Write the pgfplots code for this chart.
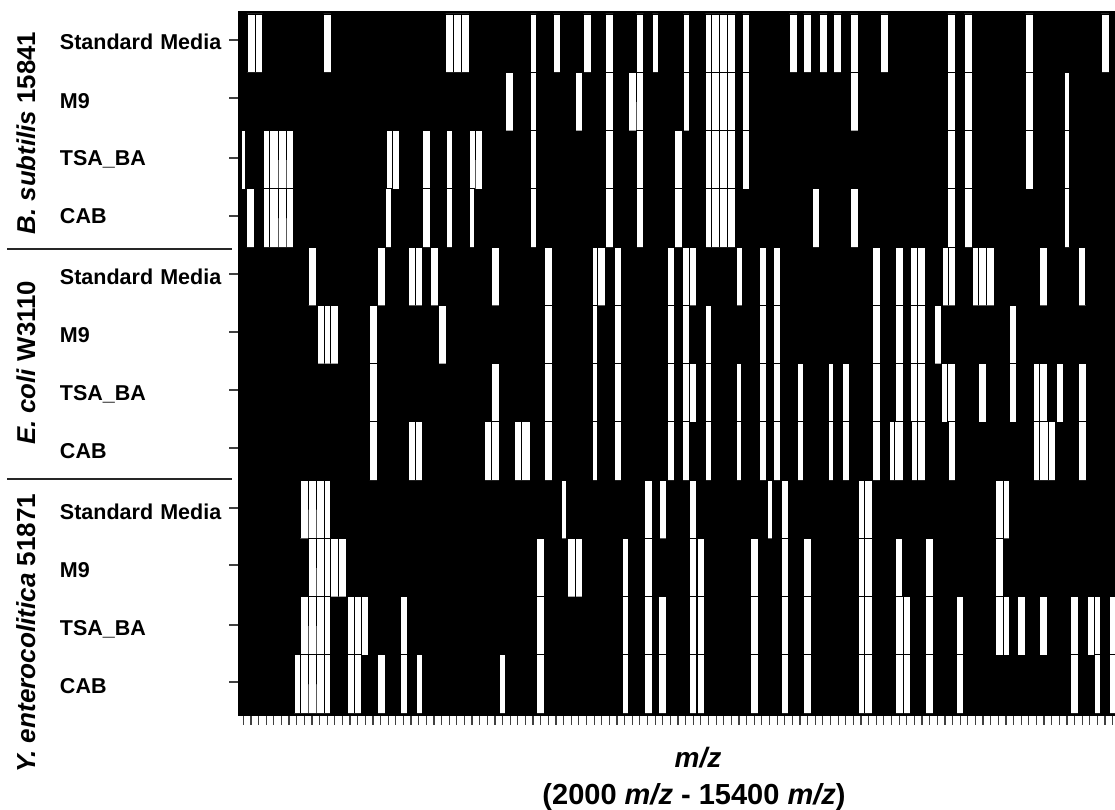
\documentclass[border=0pt]{standalone}
\usepackage{pgfplots}
\pgfplotsset{compat=1.18}
\usepackage{fontspec}
\setmainfont{Liberation Sans}
\newcommand{\fs}[1]{\fontsize{#1}{#1}\selectfont}
\pgfplotsset{barrow/.style={const plot, fill=white, draw=black, line width=0.75pt, mark=none}}
\begin{document}
\begin{tikzpicture}[x=1pt,y=1pt]
\path[use as bounding box] (0,0) rectangle (1115,810);
\begin{axis}[
  at={(238.7pt,95pt)}, anchor=south west,
  scale only axis, width=876.3pt, height=704pt,
  xmin=238.7, xmax=1115, ymin=-0.0515, ymax=12.034, y dir=reverse,
  axis background/.style={fill=black},
  axis line style={draw=black, line width=0.6pt},
  tick align=outside, major tick length=9.5pt,
  xtick pos=lower, ytick pos=lower,
  tick style={draw=black!75, line width=1.2pt},
  xtick={243.3,250.926,...,1113.5}, xticklabels={},
  ytick={0.446,1.442,2.472,3.468,4.464,5.459,6.455,7.451,8.481,9.459,10.489,11.468},
  yticklabels={\raisebox{-1pt}{Standard Media},\raisebox{-2pt}{M9},\raisebox{1pt}{TSA\_BA},\raisebox{2pt}{CAB},\raisebox{-1pt}{Standard Media},\raisebox{-2pt}{M9},\raisebox{-1pt}{TSA\_BA},\raisebox{-1pt}{CAB},\raisebox{-2pt}{Standard Media},\raisebox{-3pt}{M9},\raisebox{-1pt}{TSA\_BA},\raisebox{-2pt}{CAB}},
  yticklabel style={font=\bfseries\fs{21.5}, text width=169.2pt, align=left, text height=18pt, text depth=0pt, inner sep=0pt, outer sep=0pt, anchor=east},
]
% Standard Media, B. subtilis
\addplot[barrow] coordinates {(247,1)(247,0)(255.5,1)(255.5,0)(262.7,1)(323.7,0)(331,1)(445.7,0)(453.2,1)(453.2,0)(461.5,1)(461.5,0)(469,1)(530.7,0)(536.3,1)(553,0)(560,1)(583.3,0)(591,1)(605.7,0)(613.3,1)(636,0)(643.7,1)(652.3,0)(658.3,1)(683,0)(689,1)(705.3,0)(711.5,1)(711.5,0)(719.5,1)(719.5,0)(727.7,1)(727.7,0)(735.7,1)(742.3,0)(749.7,1)(789,0)(797,1)(803.3,0)(811,1)(819.3,0)(827.3,1)(833.7,0)(841.7,1)(850,0)(858,1)(880.7,0)(888.3,1)(947.7,0)(955.7,1)(964,0)(972,1)(1025.3,0)(1033.3,1)(1101,0)(1109,1)};
% M9
\addplot[barrow] coordinates {(505.7,2)(505.7,1)(513.7,2)(530.7,1)(536.3,2)(575,1)(582.7,2)(605.7,1)(613.3,2)(628.3,1)(636,2)(636,1)(643.7,2)(683,1)(689,2)(705.3,1)(711.5,2)(711.5,1)(719.5,2)(719.5,1)(727.7,2)(727.7,1)(735.7,2)(742.3,1)(749.7,2)(850,1)(858,2)(947.7,1)(955.7,2)(964,1)(972,2)(1025.3,1)(1033.3,2)(1064,1)(1069.5,2)};
% TSA_BA
\addplot[barrow] coordinates {(241.7,3)(241.7,2)(245.7,3)(263.3,2)(269.5,3)(269.5,2)(278,3)(278,2)(286,3)(286,2)(293.7,3)(386.3,2)(392.2,3)(392.2,2)(399.3,3)(422.3,2)(430.3,3)(446.3,2)(452,3)(469,2)(475,3)(475,2)(482.7,3)(530.3,2)(536,3)(605.7,2)(613.3,3)(636,2)(643.7,3)(674.7,2)(682.7,3)(705.3,2)(711.5,3)(711.5,2)(719.5,3)(719.5,2)(727.7,3)(727.7,2)(735.7,3)(742.3,2)(749.7,3)(947.7,2)(955.7,3)(964,2)(972,3)(1025.3,2)(1033.3,3)(1064,2)(1069.5,3)};
% CAB
\addplot[barrow] coordinates {(246.7,4)(246.7,3)(254.7,4)(263.3,3)(269.5,4)(269.5,3)(278,4)(278,3)(286,4)(286,3)(293.7,4)(385.7,3)(391.7,4)(422.3,3)(430.3,4)(446.3,3)(452,4)(469,3)(474.7,4)(530.3,3)(536,4)(605.7,3)(613.3,4)(636,3)(643.7,4)(674.7,3)(682.7,4)(705.3,3)(711.5,4)(711.5,3)(719.5,4)(719.5,3)(727.7,4)(727.7,3)(735.7,4)(812,3)(819.5,4)(850,3)(858,4)(947.7,3)(955.7,4)(964,3)(972,4)(1064,3)(1069.5,4)};
% Standard Media, E. coli
\addplot[barrow] coordinates {(308.7,5)(308.7,4)(316,5)(377.7,4)(385.3,5)(408.3,4)(415.6,5)(415.6,4)(422.3,5)(430.7,4)(438,5)(491.7,4)(499.3,5)(544.7,4)(552.3,5)(592.3,4)(597.5,5)(597.5,4)(605.3,5)(614,4)(621.3,5)(667,4)(674.7,5)(682.3,4)(689,5)(689.7,4)(696.7,5)(736,4)(742.3,5)(759,4)(766.3,5)(773,4)(780.3,5)(872.7,4)(880.3,5)(895.3,4)(903,5)(910.7,4)(917,5)(917.3,4)(925,5)(942,4)(948,5)(948,4)(955.7,5)(972.7,4)(978.7,5)(978.7,4)(986.3,5)(986.3,4)(994,5)(1039.7,4)(1047.3,5)(1078,4)(1085.7,5)};
% M9
\addplot[barrow] coordinates {(317,6)(317,5)(324.5,6)(324.5,5)(330.5,6)(330.5,5)(338,6)(369.7,5)(377,6)(438.7,5)(446,6)(544.7,5)(552.3,6)(592.3,5)(597.5,6)(614,5)(621.3,6)(667,5)(674.7,6)(682.3,5)(689,6)(705.3,5)(711.3,6)(759,5)(766.3,6)(773,5)(780.3,6)(872.7,5)(880.3,6)(895.3,5)(903,6)(910.7,5)(917,6)(917.3,5)(925,6)(934,5)(941.7,6)(1009,5)(1016.7,6)};
% TSA_BA
\addplot[barrow] coordinates {(369.7,7)(369.7,6)(377,7)(491.7,6)(499.3,7)(544.7,6)(552.3,7)(592.3,6)(597.5,7)(614,6)(621.3,7)(667,6)(674.7,7)(682.3,6)(689,7)(689.7,6)(696.7,7)(705.3,6)(711.3,7)(736,6)(741.7,7)(759,6)(766.3,7)(773,6)(780.3,7)(797.3,6)(803,7)(828,6)(833.7,7)(842,6)(849.3,7)(872.7,6)(880.3,7)(895.3,6)(903,7)(910.7,6)(917,7)(917.3,6)(925,7)(941.3,6)(947.7,7)(947.7,6)(955.7,7)(978.3,6)(986,7)(1009,6)(1016.7,7)(1033.3,6)(1039.3,7)(1039.3,6)(1047.3,7)(1056,6)(1063.3,7)(1078.3,6)(1086,7)};
% CAB
\addplot[barrow] coordinates {(369.7,8)(369.7,7)(377,8)(408.3,7)(415.6,8)(415.6,7)(422.3,8)(484,7)(491.3,8)(491.3,7)(499.3,8)(514.3,7)(521.7,8)(521.7,7)(530.3,8)(544.7,7)(552.3,8)(592.3,7)(597.5,8)(614,7)(621.3,8)(667,7)(674.7,8)(682.3,7)(689,8)(705.3,7)(711.3,8)(736,7)(741.7,8)(759,7)(766.3,8)(773,7)(780.3,8)(797.3,7)(803,8)(828,7)(833.7,8)(842,7)(849.3,8)(872.7,7)(880.3,8)(889.3,7)(894.7,8)(894.7,7)(903,8)(911.3,7)(917,8)(917.3,7)(925,8)(948,7)(955.7,8)(1033.3,7)(1039.3,8)(1039.3,7)(1048,8)(1048,7)(1055.3,8)(1078.3,7)(1086,8)};
% Standard Media, Y. enterocolitica
\addplot[barrow] coordinates {(300.3,9)(300.3,8)(308,9)(308,8)(316,9)(316,8)(324.2,9)(324.2,8)(330.5,9)(561,8)(566,9)(644.7,8)(652,9)(659,8)(666,9)(689.7,8)(696.3,9)(767,8)(772,9)(781,8)(788.3,9)(858.7,8)(864.8,9)(864.8,8)(872.3,9)(995,8)(1003,9)(1003,8)(1009,9)};
% M9
\addplot[barrow] coordinates {(308,10)(308,9)(316,10)(316,9)(324.2,10)(324.2,9)(330.5,10)(330.5,9)(338.3,10)(338.3,9)(346,10)(536.3,9)(544.3,10)(567.3,9)(575,10)(575.5,9)(582.7,10)(622,9)(628,10)(644.7,9)(652,10)(689.7,9)(696.5,10)(697.3,9)(704.7,10)(750.3,9)(758,10)(781,9)(788.3,10)(803.7,9)(811,10)(858.7,9)(864.8,10)(864.8,9)(872.3,10)(895,9)(902.3,10)(925.3,9)(933.3,10)(995,9)(1003,10)};
% TSA_BA
\addplot[barrow] coordinates {(300.3,11)(300.3,10)(308,11)(308,10)(316,11)(316,10)(324.2,11)(324.2,10)(330.5,11)(347,10)(354.7,11)(354.7,10)(361.3,11)(361.3,10)(368.7,11)(400,10)(407.3,11)(536.3,10)(544.3,11)(622,10)(628,11)(644.7,10)(652,11)(658.7,10)(666.3,11)(689.7,10)(696.5,11)(697.3,10)(704.7,11)(750.3,10)(758,11)(781,10)(788.3,11)(803.7,10)(811,11)(858.7,10)(864.8,11)(864.8,10)(872.3,11)(895,10)(903,11)(903.7,10)(910.7,11)(925.3,10)(933.3,11)(956,10)(963.3,11)(995,10)(1003.3,11)(1003.3,10)(1009,11)(1017,10)(1025,11)(1039.7,10)(1047.3,11)(1070.3,10)(1078,11)(1087,10)(1094.3,11)(1094.3,10)(1100.7,11)(1109.3,10)(1116,11)};
% CAB
\addplot[barrow] coordinates {(294,12)(294,11)(300.2,12)(300.2,11)(308,12)(308,11)(316,12)(316,11)(324.2,12)(324.2,11)(330.5,12)(347.7,11)(354.7,12)(354.7,11)(361,12)(377.3,11)(385.3,12)(400,11)(407.7,12)(416.3,11)(422.3,12)(499.7,11)(505.7,12)(536.3,11)(544.3,12)(622,11)(628,12)(644.7,11)(652,12)(658.7,11)(666.3,12)(689.7,11)(696.5,12)(697.3,11)(704.7,12)(750.3,11)(758,12)(781,11)(788.3,12)(803.7,11)(811,12)(858.7,11)(864.8,12)(864.8,11)(872.3,12)(895,11)(903,12)(903.7,11)(910.7,12)(925.3,11)(933.3,12)(956,11)(963.3,12)(1070.3,11)(1078,12)(1094.3,11)(1100.7,12)(1109.3,11)(1116,12)};
\end{axis}
\draw[line width=2pt, black!85] (7,561.3) -- (231.7,561.3);
\draw[line width=2pt, black!85] (7,331) -- (231.7,331);
\node[rotate=90, anchor=base, inner sep=0pt, font=\bfseries\fs{25.8}] at (35,677) {\textit{B. subtilis} 15841};
\node[rotate=90, anchor=base, inner sep=0pt, font=\bfseries\fs{25.8}] at (35,447) {\textit{E. coli} W3110};
\node[rotate=90, anchor=base, inner sep=0pt, font=\bfseries\fs{26.1}] at (35,177) {\textit{Y. enterocolitica} 51871};
\node[anchor=base, inner sep=0pt, font=\bfseries\fs{28}] at (698,42) {\textit{m/z}};
\node[anchor=base, inner sep=0pt, font=\bfseries\fs{29}] at (694,5) {(2000 \textit{m/z} - 15400 \textit{m/z})};
\end{tikzpicture}
\end{document}
